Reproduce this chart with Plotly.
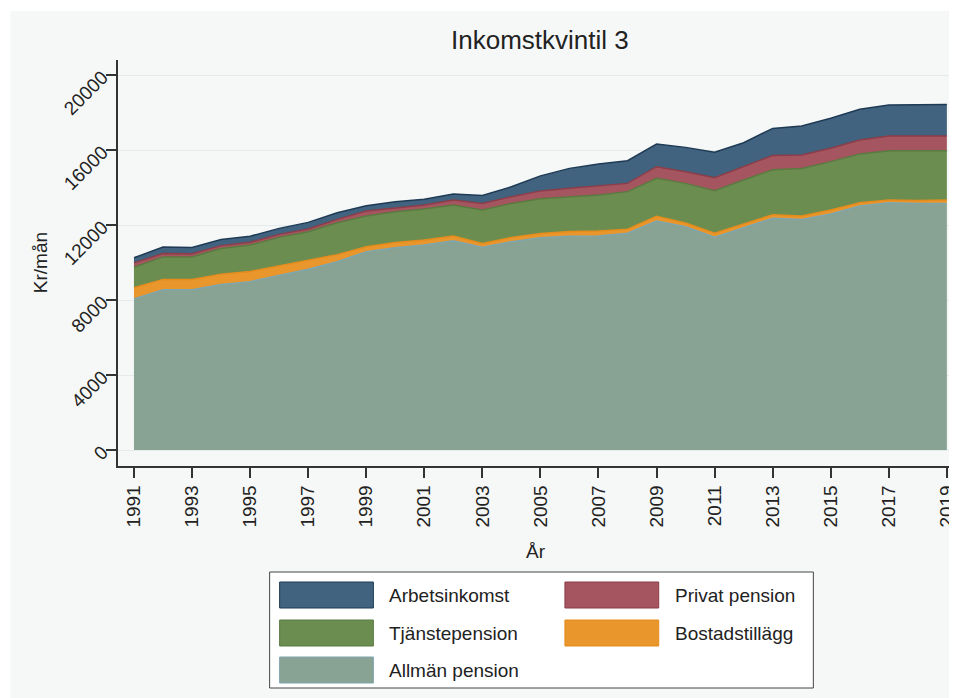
import plotly.graph_objects as go

years = list(range(1991, 2020))

allman = [8050, 8550, 8550, 8830, 8980, 9330, 9640, 10040, 10580, 10790, 10930, 11160, 10810, 11110,
          11320, 11400, 11420, 11560, 12210, 11910, 11350, 11850, 12360, 12300, 12590, 13010, 13190, 13150, 13150]
bostad = [600, 550, 550, 550, 540, 490, 440, 380, 260, 280, 270, 250, 210, 230,
          230, 250, 260, 220, 250, 200, 210, 200, 190, 180, 210, 180, 140, 160, 180]
tjanste = [1100, 1200, 1200, 1370, 1410, 1520, 1560, 1700, 1640, 1640, 1650, 1660, 1780, 1810,
           1850, 1860, 1920, 2000, 2030, 2110, 2270, 2350, 2400, 2540, 2580, 2600, 2630, 2650, 2630]
privat = [230, 180, 170, 150, 150, 160, 150, 180, 270, 210, 220, 260, 350, 360,
          420, 450, 500, 440, 620, 620, 690, 710, 760, 710, 710, 740, 790, 790, 790]
arbets = [270, 350, 330, 330, 320, 320, 350, 350, 280, 320, 300, 320, 430, 530,
          800, 1060, 1150, 1210, 1210, 1300, 1360, 1280, 1440, 1550, 1600, 1640, 1650, 1650, 1680]

names = ["Allmän pension", "Bostadstillägg", "Tjänstepension", "Privat pension", "Arbetsinkomst"]
series = [allman, bostad, tjanste, privat, arbets]
fills = ["#88a294", "#e9962d", "#6b8d50", "#a5555f", "#41637f"]
lines = ["#7ea6ae", "#e58c1c", "#5a7a40", "#8c3d48", "#1f3a55"]

x_ticks = list(range(1991, 2020, 2))
y_ticks = [0, 4000, 8000, 12000, 16000, 20000]

FONT = "Liberation Sans, Arial, sans-serif"
BG = "#f5f8f7"
TXT = "#222222"

fig = go.Figure()
for nm, vals, fc, lc in zip(names, series, fills, lines):
    fig.add_trace(go.Scatter(x=years, y=vals, name=nm, stackgroup="one", mode="lines",
                             line=dict(color=lc, width=1.5), fillcolor=fc, showlegend=False))

OFF = 8  # default page body margin
W, H = 957 - OFF, 698 - OFF
L, R, T, B = 118 - OFF, 0, 60 - OFF, 698 - 466
pw, ph = W - L - R, H - T - B


def px(x):
    return (x - OFF - L) / pw


def py(y):
    return (H - B - (y - OFF)) / ph


shapes = [
    dict(type="rect", xref="paper", yref="paper", x0=px(10), x1=px(960), y0=py(698), y1=py(11),
         fillcolor=BG, line=dict(width=0), layer="below"),
    dict(type="rect", xref="paper", yref="paper", x0=px(270), x1=px(815), y0=py(688), y1=py(572),
         fillcolor="#ffffff", line=dict(color="#444444", width=1), layer="below"),
]

annotations = [
    dict(text="Inkomstkvintil 3", xref="paper", yref="paper", x=px(541), y=py(40), showarrow=False,
         font=dict(size=26, color=TXT, family=FONT), xanchor="center", yanchor="middle"),
    dict(text="Kr/mån", xref="paper", yref="paper", x=px(40), y=py(263), showarrow=False, textangle=-90,
         font=dict(size=19, color=TXT, family=FONT), xanchor="center", yanchor="middle"),
    dict(text="År", xref="paper", yref="paper", x=px(537), y=py(551), showarrow=False,
         font=dict(size=19, color=TXT, family=FONT), xanchor="center", yanchor="middle"),
]

# legend entries: (series index, swatch left x, row center y) in reference pixels
legend_layout = [(4, 280, 595), (3, 566, 595), (2, 280, 633), (1, 566, 633), (0, 280, 670)]
for idx, x0, yc in legend_layout:
    shapes.append(dict(type="rect", xref="paper", yref="paper", x0=px(x0), x1=px(x0 + 94),
                       y0=py(yc + 13), y1=py(yc - 13), fillcolor=fills[idx],
                       line=dict(color=lines[idx], width=1)))
    annotations.append(dict(text=names[idx], xref="paper", yref="paper", x=px(x0 + 108), y=py(yc),
                            showarrow=False, xanchor="left", yanchor="middle",
                            font=dict(size=19, color=TXT, family=FONT)))

fig.update_layout(
    width=W, height=H,
    margin=dict(l=L, r=R, t=T, b=B),
    paper_bgcolor="#ffffff", plot_bgcolor=BG,
    font=dict(family=FONT, color=TXT),
    shapes=shapes, annotations=annotations,
    showlegend=False,
)
fig.update_xaxes(range=[1990.45, 2019.28], tickvals=x_ticks, ticktext=[str(t) for t in x_ticks],
                 tickangle=-90, ticks="outside", ticklen=10, tickwidth=1.5, tickcolor="#333333",
                 showline=True, linecolor="#333333", linewidth=1.5, showgrid=False, zeroline=False,
                 ticklabeloverflow="allow",
                 tickfont=dict(size=19, family=FONT, color=TXT))
fig.update_yaxes(range=[-853, 20800], tickvals=y_ticks, ticktext=[str(t) for t in y_ticks],
                 tickangle=-45, ticks="outside", ticklen=10, tickwidth=1.5, tickcolor="#333333",
                 showline=True, linecolor="#333333", linewidth=1.5, showgrid=True,
                 gridcolor="#e4ebea", gridwidth=1, zeroline=False,
                 tickfont=dict(size=19, family=FONT, color=TXT))

fig.write_html("out.html")
